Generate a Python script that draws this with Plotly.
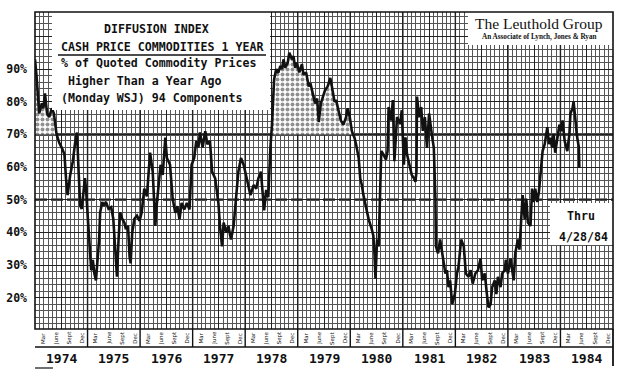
import plotly.graph_objects as go

# ---- data ----
t = [1974.00, 1974.03, 1974.08, 1974.13, 1974.16, 1974.19, 1974.23, 1974.27, 1974.32, 1974.36,
     1974.41, 1974.46, 1974.51, 1974.56, 1974.59, 1974.62, 1974.67, 1974.72, 1974.76, 1974.80,
     1974.83, 1974.86, 1974.89, 1974.92, 1974.95, 1974.97, 1975.00, 1975.03, 1975.07, 1975.10,
     1975.13, 1975.16, 1975.19, 1975.22, 1975.24, 1975.28, 1975.31, 1975.35, 1975.40, 1975.45,
     1975.49, 1975.53, 1975.56, 1975.59, 1975.62, 1975.66, 1975.70, 1975.73, 1975.77, 1975.80,
     1975.82, 1975.85, 1975.89, 1975.94, 1975.99, 1976.03, 1976.08, 1976.13, 1976.19, 1976.24,
     1976.29, 1976.32, 1976.37, 1976.39, 1976.43, 1976.48, 1976.51, 1976.57, 1976.62, 1976.67,
     1976.71, 1976.75, 1976.79, 1976.84, 1976.89, 1976.94, 1976.98, 1977.03, 1977.07, 1977.11,
     1977.14, 1977.19, 1977.24, 1977.28, 1977.33, 1977.37, 1977.43, 1977.49, 1977.52, 1977.56,
     1977.59, 1977.64, 1977.68, 1977.73, 1977.78, 1977.83, 1977.87, 1977.92, 1977.97, 1978.03,
     1978.10, 1978.16, 1978.21, 1978.25, 1978.30, 1978.32, 1978.36, 1978.40, 1978.44, 1978.48,
     1978.51, 1978.55, 1978.59, 1978.63, 1978.67, 1978.70, 1978.73, 1978.76, 1978.81, 1978.84,
     1978.89, 1978.92, 1978.95, 1978.98, 1979.03, 1979.08, 1979.11, 1979.16, 1979.21, 1979.24,
     1979.29, 1979.33, 1979.37, 1979.40, 1979.44, 1979.48, 1979.52, 1979.57, 1979.62, 1979.65,
     1979.70, 1979.73, 1979.78, 1979.82, 1979.87, 1979.92, 1979.95, 1979.99, 1980.03, 1980.08,
     1980.11, 1980.16, 1980.19, 1980.22, 1980.25, 1980.29, 1980.35, 1980.41, 1980.44, 1980.46,
     1980.48, 1980.51, 1980.54, 1980.57, 1980.59, 1980.63, 1980.68, 1980.71, 1980.73, 1980.78,
     1980.81, 1980.84, 1980.89, 1980.95, 1980.98, 1981.02, 1981.05, 1981.08, 1981.13, 1981.17,
     1981.21, 1981.24, 1981.26, 1981.27, 1981.31, 1981.35, 1981.38, 1981.42, 1981.46, 1981.50,
     1981.56, 1981.59, 1981.62, 1981.63, 1981.67, 1981.71, 1981.76, 1981.81, 1981.84, 1981.87,
     1981.90, 1981.94, 1981.99, 1982.03, 1982.06, 1982.11, 1982.16, 1982.20, 1982.25, 1982.29,
     1982.33, 1982.38, 1982.43, 1982.48, 1982.51, 1982.56, 1982.60, 1982.63, 1982.67, 1982.70,
     1982.75, 1982.78, 1982.81, 1982.86, 1982.89, 1982.94, 1982.96, 1983.00, 1983.05, 1983.08,
     1983.11, 1983.14, 1983.19, 1983.22, 1983.25, 1983.28, 1983.32, 1983.35, 1983.38, 1983.43,
     1983.46, 1983.49, 1983.52, 1983.56, 1983.59, 1983.62, 1983.66, 1983.70, 1983.75, 1983.78,
     1983.81, 1983.84, 1983.87, 1983.90, 1983.94, 1983.98, 1984.02, 1984.04, 1984.08, 1984.13,
     1984.17, 1984.19, 1984.23, 1984.25, 1984.28, 1984.31, 1984.35, 1984.36]

pct = [93, 87.8, 76.4, 79.5, 78, 82.6, 76.4, 75.3, 78, 76.4,
       70.1, 67.5, 65.9, 63.9, 56.6, 51.4, 57.6, 61.8, 67, 70.6,
       58.6, 48.2, 47.2, 52.4, 56.6, 53.4, 46.1, 35.7, 28.4, 31.6,
       27.4, 25.3, 31.6, 37.8, 46.1, 49.3, 48.2, 49.3, 47.2, 47.7,
       44.1, 33.6, 26.4, 37.8, 46.1, 44.1, 43, 41, 42, 32.6,
       30.5, 39.9, 44.1, 45.1, 43.5, 46.1, 53.4, 51, 64.4, 58.6,
       42, 49, 56.5, 60.7, 57.6, 69, 62.8, 60.7, 50.3, 46,
       48, 44, 49, 47, 49, 47, 60.7, 62.8, 68, 66,
       70.6, 66, 71, 67, 68, 58.6, 56.5, 49, 42, 35.7,
       43, 40, 42, 37.8, 42, 51.4, 58.6, 62.8, 60.7, 56.5,
       51.4, 54.5, 53.4, 56.5, 58.6, 54.5, 46.7, 53, 50.8, 66,
       73, 86.8, 90, 88.9, 91, 90, 93, 90.4, 92, 95,
       93, 94, 90.4, 92, 89, 91.5, 88.3, 89, 84.7, 85.7,
       82, 79.5, 81, 73.8, 79.5, 81.6, 83.6, 84.7, 87.3, 84.7,
       80, 80.5, 76.4, 74.3, 73, 75.3, 78, 75.3, 71, 69,
       67, 62.8, 56.5, 54.5, 51.4, 48, 44, 40.9, 38.9, 33.6,
       25.8, 37.8, 35.7, 53.4, 64.9, 63.9, 62.3, 64.9, 78.4, 74.3,
       80.5, 61.8, 75.3, 73.2, 77.4, 60.7, 69.1, 63.9, 60.7, 57.6,
       56.6, 55.5, 58.6, 81.6, 75.3, 78.4, 71.1, 75.3, 65.9, 76.4,
       69.1, 65.9, 50.3, 35.7, 33.6, 37.8, 32.6, 27.4, 28.4, 23.2,
       25.3, 18, 21.1, 27.4, 29.5, 37.8, 35.7, 27.4, 26.4, 28.4,
       24.3, 27.4, 28.4, 32, 25.3, 27.4, 21.1, 17, 18, 23.2,
       25.3, 21.1, 26.4, 23.2, 27.4, 28.4, 31.6, 27.4, 32, 28.4,
       25.3, 33.6, 37.8, 34.7, 42, 51.4, 44, 50.3, 43, 42,
       53.4, 49.3, 53.4, 49.3, 52.4, 58.6, 64.9, 67, 72.2, 67,
       69, 66, 70, 64.4, 69, 73, 71, 74.3, 68, 64.9,
       70, 76.4, 78, 80, 75.3, 70, 66, 59.7]

y_tick_vals = [10, 20, 30, 40, 50, 60, 70, 80, 90, 100]
y_tick_text = ["", "20%", "30%", "40%", "50%", "60%", "70%", "80%", "90%", ""]
years = list(range(1974, 1985))
month_labels = [(3, "Mar"), (6, "June"), (9, "Sept"), (12, "Dec")]
upper_ref = 70
lower_ref = 50
fill_end = 1980.1

# ---- stippled region above 70% (1974 & 1978-79) ----
ft, fv = [], []
for i in range(len(t)):
    if t[i] > fill_end:
        break
    if i > 0:
        a, b = pct[i - 1] - upper_ref, pct[i] - upper_ref
        if a * b < 0:
            tc = t[i - 1] + (t[i] - t[i - 1]) * a / (a - b)
            ft.append(tc)
            fv.append(upper_ref)
    ft.append(t[i])
    fv.append(max(pct[i], upper_ref))

MONO = "DejaVu Sans Mono"
SERIF = "Liberation Serif"

fig = go.Figure()
fig.add_trace(go.Scatter(x=ft, y=[upper_ref] * len(ft), mode="lines",
                         line=dict(width=0, color="rgba(0,0,0,0)"),
                         showlegend=False, hoverinfo="skip"))
fig.add_trace(go.Scatter(x=ft, y=fv, mode="lines", fill="tonexty",
                         fillcolor="white",
                         fillpattern=dict(shape=".", fgcolor="#222", bgcolor="white",
                                          size=5, solidity=0.5),
                         line=dict(width=0, color="rgba(0,0,0,0)"),
                         showlegend=False, hoverinfo="skip"))
fig.add_trace(go.Scatter(x=t, y=pct, mode="lines",
                         line=dict(color="#111", width=2.6),
                         showlegend=False))

W, H = 629, 382
L, R, T, B = 35, 16, 12, 53
ph = H - T - B
pw = W - L - R


def px_y(py):
    return (H - B - py) / ph


def px_x(px):
    return (px - L) / pw


shapes = []
# year lines through the grid
for yr in years[1:]:
    shapes.append(dict(type="line", xref="x", yref="paper", x0=yr, x1=yr, y0=0, y1=1,
                       line=dict(color="#111", width=1.4), layer="between"))
# reference lines
shapes.append(dict(type="line", xref="paper", yref="y", x0=0, x1=1, y0=upper_ref, y1=upper_ref,
                   line=dict(color="#111", width=2.4), layer="between"))
shapes.append(dict(type="line", xref="paper", yref="y", x0=0, x1=1, y0=lower_ref, y1=lower_ref,
                   line=dict(color="#111", width=2.2, dash="12px,4px"), layer="between"))
# white boxes
shapes.append(dict(type="rect", xref="paper", yref="paper", x0=px_x(52), x1=px_x(270),
                   y0=px_y(110), y1=1, fillcolor="white", line=dict(width=0), layer="above"))
shapes.append(dict(type="rect", xref="paper", yref="paper", x0=px_x(468), x1=1,
                   y0=px_y(45), y1=1, fillcolor="white", line=dict(width=0), layer="above"))
shapes.append(dict(type="rect", xref="paper", yref="paper", x0=px_x(550), x1=1,
                   y0=px_y(245), y1=px_y(203), fillcolor="white", line=dict(width=0), layer="above"))
# underline of the subtitle
shapes.append(dict(type="line", xref="paper", yref="paper", x0=px_x(58), x1=px_x(266),
                   y0=px_y(55), y1=px_y(55), line=dict(color="#111", width=1.5), layer="above"))
# month band below the grid
band_bot = px_y(347)
for yr in years[1:]:
    shapes.append(dict(type="line", xref="x", yref="paper", x0=yr, x1=yr, y0=band_bot, y1=0,
                       line=dict(color="#111", width=1.4), layer="above"))
shapes.append(dict(type="line", xref="paper", yref="paper", x0=0, x1=1, y0=band_bot, y1=band_bot,
                   line=dict(color="#111", width=1.5), layer="above"))
shapes.append(dict(type="line", xref="paper", yref="paper", x0=1, x1=1, y0=px_y(366), y1=0,
                   line=dict(color="#111", width=1.8), layer="above"))
shapes.append(dict(type="line", xref="paper", yref="paper", x0=0, x1=px_x(53), y0=px_y(368),
                   y1=px_y(368), line=dict(color="#111", width=1.2), layer="above"))
# frame
shapes.append(dict(type="rect", xref="paper", yref="paper", x0=0, x1=1, y0=0, y1=1,
                   line=dict(color="#111", width=1.6), layer="above"))

annotations = []
title_font = dict(family=MONO, size=11.6, color="#111")
annotations.append(dict(text="<b>DIFFUSION INDEX</b>", x=px_x(156), y=px_y(29), xref="paper",
                        yref="paper", xanchor="center", yanchor="middle", showarrow=False,
                        font=title_font))
for txt, x0, y0 in [("CASH PRICE COMMODITIES 1 YEAR", 59, 47),
                    ("% of Quoted Commodity Prices", 59, 63),
                    ("Higher Than a Year Ago", 66, 81),
                    ("(Monday WSJ) 94 Components", 59, 98)]:
    annotations.append(dict(text="<b>" + txt + "</b>", x=px_x(x0), y=px_y(y0), xref="paper",
                            yref="paper", xanchor="left", yanchor="middle", showarrow=False,
                            font=title_font))
annotations.append(dict(text="The Leuthold Group", x=px_x(539), y=px_y(24), xref="paper",
                        yref="paper", xanchor="center", yanchor="middle", showarrow=False,
                        font=dict(family=SERIF, size=15.5, color="#111")))
annotations.append(dict(text="<b>An Associate of Lynch, Jones & Ryan</b>", x=px_x(539), y=px_y(37),
                        xref="paper", yref="paper", xanchor="center", yanchor="middle",
                        showarrow=False, font=dict(family=SERIF, size=7.2, color="#111")))
annotations.append(dict(text="<b>Thru</b>", x=px_x(581), y=px_y(216), xref="paper", yref="paper",
                        xanchor="center", yanchor="middle", showarrow=False, font=title_font))
annotations.append(dict(text="<b>4/28/84</b>", x=px_x(583), y=px_y(237), xref="paper",
                        yref="paper", xanchor="center", yanchor="middle", showarrow=False,
                        font=title_font))
# month labels and year labels
for yr in years:
    for m, lbl in month_labels:
        annotations.append(dict(text=lbl, x=yr + (m - 1.2) / 12, y=px_y(338), xref="x",
                                yref="paper", xanchor="center", yanchor="middle",
                                textangle=-90, showarrow=False,
                                font=dict(family="DejaVu Sans", size=5.5, color="#111")))
    annotations.append(dict(text="<b>%d</b>" % yr, x=yr + 0.5, y=px_y(358), xref="x",
                            yref="paper", xanchor="center", yanchor="middle", showarrow=False,
                            font=dict(family=MONO, size=13, color="#111")))

fig.update_layout(
    width=W, height=H,
    margin=dict(l=L, r=R, t=T, b=B, pad=0, autoexpand=False),
    paper_bgcolor="white", plot_bgcolor="white",
    showlegend=False,
    hovermode=False,
    shapes=shapes,
    annotations=annotations,
    xaxis=dict(range=[1974, 1985], showticklabels=False, ticks="", zeroline=False,
               automargin=False,
               showgrid=True, tick0=1974, dtick=0.5, gridcolor="#222", gridwidth=1.1,
               minor=dict(showgrid=True, tick0=1974, dtick=1 / 12, gridcolor="#555",
                          gridwidth=0.6)),
    yaxis=dict(range=[10.4, 107.5], tickmode="array", tickvals=y_tick_vals,
               ticktext=y_tick_text, zeroline=False, showgrid=True, gridcolor="#222",
               automargin=False,
               gridwidth=1.1, ticks="", ticklabelstandoff=7,
               tickfont=dict(family=MONO, size=11.5, color="#111", weight="bold"),
               minor=dict(showgrid=True, tick0=0, dtick=2, gridcolor="#555", gridwidth=0.6)),
)

fig.write_html("out.html", config={"displayModeBar": False},
               post_script="document.body.style.margin='0px';")
